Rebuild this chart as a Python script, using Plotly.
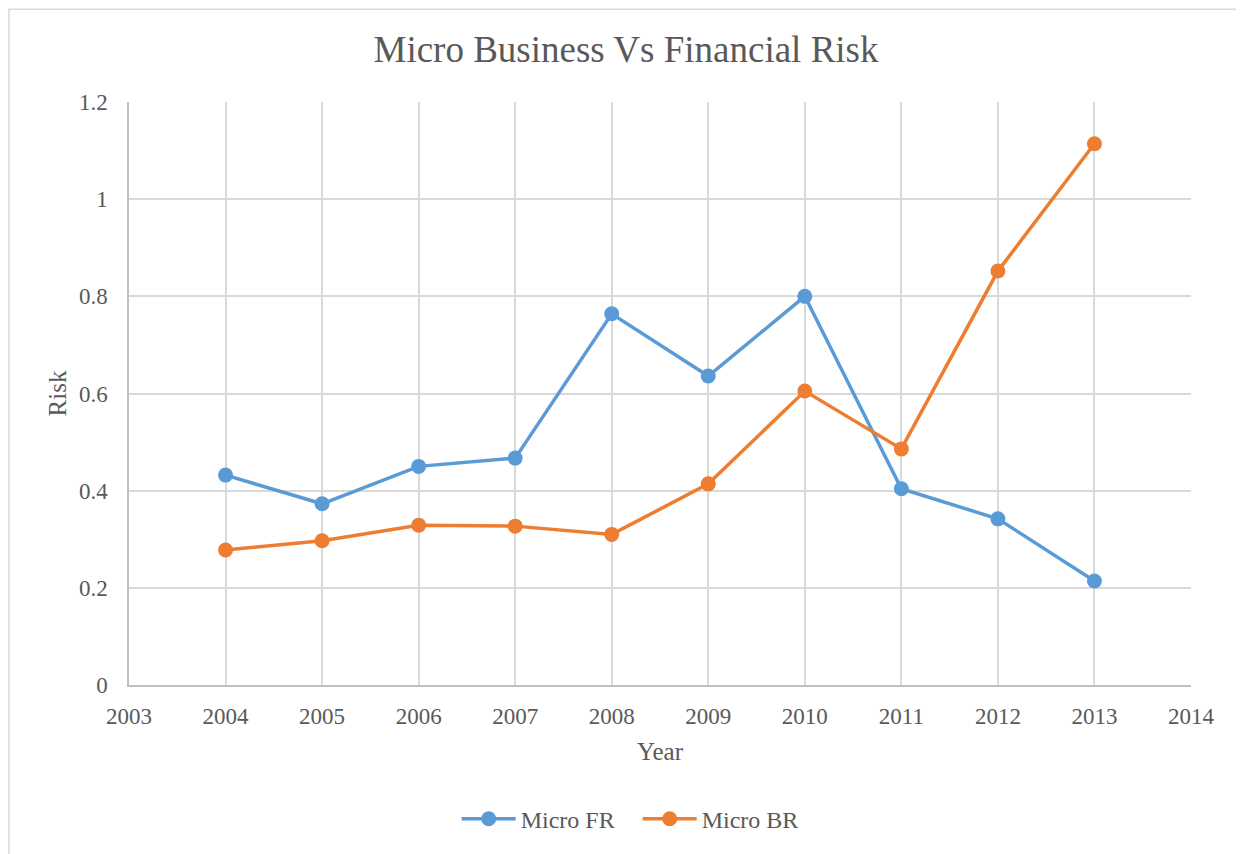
import plotly.graph_objects as go

# data
years = [2004, 2005, 2006, 2007, 2008, 2009, 2010, 2011, 2012, 2013]
micro_fr = [0.432, 0.373, 0.450, 0.467, 0.764, 0.636, 0.800, 0.404, 0.342, 0.214]
micro_br = [0.278, 0.297, 0.329, 0.327, 0.310, 0.414, 0.605, 0.486, 0.852, 1.114]

blue = '#5B9BD5'
orange = '#ED7D31'
grey_text = '#595959'
grid = '#d9d9d9'
font = 'Liberation Serif'

fig = go.Figure()
fig.add_trace(go.Scatter(x=years, y=micro_fr, name='Micro FR', mode='lines+markers',
                         line=dict(color=blue, width=3.5), marker=dict(size=15, color=blue)))
fig.add_trace(go.Scatter(x=years, y=micro_br, name='Micro BR', mode='lines+markers',
                         line=dict(color=orange, width=3.5), marker=dict(size=15, color=orange)))

# page body has an 8px margin, so the figure is made 8px smaller
fig.update_layout(
    width=1236, height=846,
    margin=dict(l=121, r=53, t=94, b=160),
    paper_bgcolor='white', plot_bgcolor='white',
    font=dict(family=font, color=grey_text, size=23),
    title=dict(text='Micro Business Vs Financial Risk', x=0.5, xanchor='center',
               y=0.952, yanchor='middle', font=dict(size=37, color=grey_text)),
    showlegend=True,
    legend=dict(orientation='h', x=0.479, xanchor='center', y=-0.23, yanchor='middle',
                font=dict(size=24, color=grey_text), itemwidth=54,
                entrywidth=112, entrywidthmode='pixels'),
    # outer chart border (left and top edges, the rest runs off the page)
    shapes=[dict(type='rect', xref='paper', yref='paper',
                 x0=-0.113, x1=1.2, y0=-0.4, y1=1.159,
                 line=dict(color=grid, width=1.5), fillcolor='rgba(0,0,0,0)', layer='below')],
)

fig.update_xaxes(
    range=[2003, 2014], dtick=1, tick0=2003,
    showgrid=True, gridcolor=grid, gridwidth=1.5,
    showline=True, linecolor='#bfbfbf', linewidth=1.5,
    zeroline=False, ticks='', ticklabelstandoff=10,
    tickfont=dict(size=23, color=grey_text),
    title=dict(text='Year', font=dict(size=25, color=grey_text), standoff=14),
)
fig.update_yaxes(
    range=[0, 1.2], dtick=0.2, tick0=0,
    showgrid=True, gridcolor=grid, gridwidth=1.5,
    showline=True, linecolor='#bfbfbf', linewidth=1.5,
    zeroline=False, ticks='', ticklabelstandoff=15,
    tickfont=dict(size=23, color=grey_text),
    title=dict(text='Risk', font=dict(size=25, color=grey_text), standoff=5),
)

fig.write_html('out.html')
